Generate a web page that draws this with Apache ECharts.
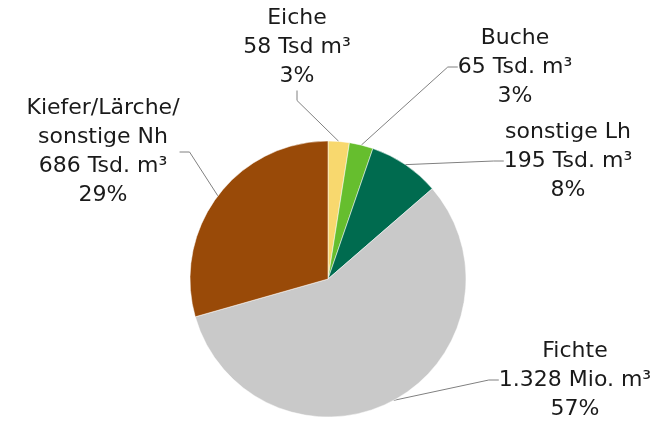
<!DOCTYPE html>
<html>
<head>
<meta charset="utf-8">
<script src="https://cdn.jsdelivr.net/npm/echarts@6/dist/echarts.min.js"></script>
<style>
  html, body { margin: 0; padding: 0; background: #fff; }
  #main { width: 654px; height: 422px; }
</style>
</head>
<body>
<div id="main"></div>
<script>
// Holzarten, Einschlag (Tsd. m³)
var names = ['Eiche', 'Buche', 'sonstige Lh', 'Fichte', 'Kiefer/Lärche/\nsonstige Nh'];
var values = [58, 65, 195, 1328, 686];
var amountLabels = ['58 Tsd m³', '65 Tsd. m³', '195 Tsd. m³', '1.328 Mio. m³', '686 Tsd. m³'];
var percentLabels = ['3%', '3%', '8%', '57%', '29%'];
var colors = ['#F8D86E', '#66BE2E', '#006B4F', '#C9C9C9', '#994A08'];

// Label-Mittelpunkte (Layout, keine Daten)
var labelCenters = [[297, 47], [515, 67], [568, 161], [575, 380], [103, 152]];

var myChart = echarts.init(document.getElementById('main'));

var seriesData = [];
for (var i = 0; i < names.length; i++) {
    seriesData.push({
        name: names[i],
        value: values[i],
        itemStyle: { color: colors[i] }
    });
}

var option = {
    animation: false,
    series: [{
        type: 'pie',
        center: [328, 279],
        radius: 138,
        startAngle: 90,
        clockwise: true,
        data: seriesData,
        itemStyle: { borderColor: '#fff', borderWidth: 0.5 },
        label: {
            show: true,
            position: 'outside',
            fontFamily: 'DejaVu Sans',
            fontSize: 22,
            lineHeight: 29,
            color: '#1a1a1a',
            align: 'center',
            formatter: function (p) {
                return p.name + '\n' + amountLabels[p.dataIndex] + '\n' + percentLabels[p.dataIndex];
            }
        },
        labelLine: {
            show: true,
            length: 10,
            length2: 10,
            lineStyle: { color: '#808080', width: 1 }
        },
        labelLayout: function (p) {
            var c = labelCenters[p.dataIndex];
            return { x: c[0], y: c[1], align: 'center', verticalAlign: 'middle' };
        }
    }]
};

myChart.setOption(option);
</script>
</body>
</html>
